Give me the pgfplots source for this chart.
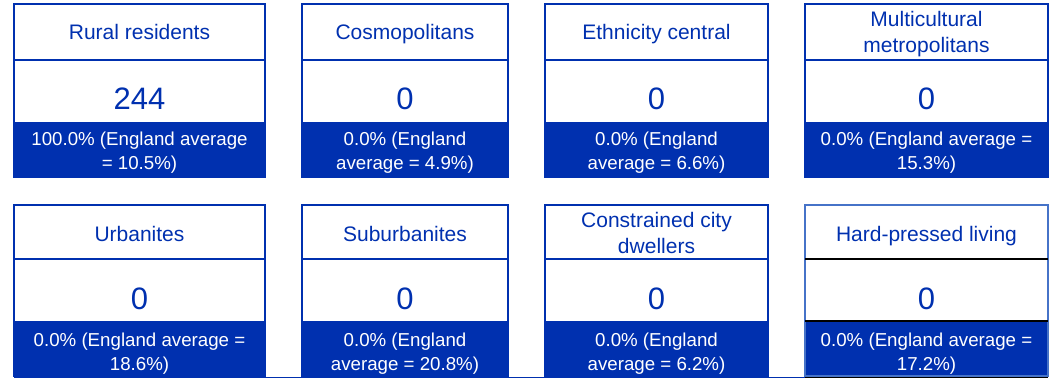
\documentclass[border=0pt]{standalone}
\usepackage{pgfplots}
\pgfplotsset{compat=1.18}
\usepackage{pgfplotstable}
\usepackage{fontspec}
\setmainfont{Liberation Sans}
\definecolor{ons}{RGB}{0,48,175}
\definecolor{hpb}{RGB}{70,115,200}

\pgfplotstableread{
x y count
139.5 110 244
405 110 0
656.5 110 0
926.5 110 0
139.5 309 0
405 309 0
656.5 309 0
926.5 309 0
}\counts

% #1 x1, #2 x2, #3 top, #4 divider, #5 band top, #6 bottom
\newcommand{\panel}[6]{%
  \fill[ons] (axis cs:#1,#5) rectangle (axis cs:#2,#6);
  \draw[ons,line width=2.2pt] (axis cs:#1,#3) rectangle (axis cs:#2,#6);
  \draw[ons,line width=2.2pt] (axis cs:#1,#4) -- (axis cs:#2,#4);
}
\tikzset{
  ttl/.style={anchor=base,text=ons,inner sep=0pt,font=\fontsize{21}{25}\selectfont},
  bnd/.style={anchor=base,text=white,inner sep=0pt,font=\fontsize{18.7}{24}\selectfont},
}

\begin{document}
\begin{tikzpicture}
\begin{axis}[width=1051pt,height=379pt,scale only axis,hide axis,
  xmin=0,xmax=1051,ymin=0,ymax=379,y dir=reverse,clip=false]
\path (axis cs:0,0) rectangle (axis cs:1051,379);
% row 1
\panel{14}{265}{4}{60}{122}{177}
\panel{302}{508}{4}{60}{122}{177}
\panel{545}{768}{4}{60}{122}{177}
\panel{805}{1048}{4}{60}{122}{177}
% row 2
\draw[ons,line width=1.2pt] (axis cs:14,377.8) -- (axis cs:805,377.8);
\draw[black,line width=1.2pt] (axis cs:805,377.8) -- (axis cs:1048,377.8);
\panel{14}{265}{205}{259}{321}{376}
\panel{302}{508}{205}{259}{321}{376}
\panel{545}{768}{205}{259}{321}{376}
% hard-pressed living panel
\fill[ons] (axis cs:805,321) rectangle (axis cs:1048,376);
\draw[hpb,line width=2.2pt] (axis cs:805,205) rectangle (axis cs:1048,376);
\draw[black,line width=2pt] (axis cs:805,259) -- (axis cs:1048,259);
\draw[black,line width=1.6pt] (axis cs:805,321) -- (axis cs:1048,321);

% titles
\node[ttl] at (axis cs:139.5,40) {Rural residents};
\node[ttl] at (axis cs:405,40) {Cosmopolitans};
\node[ttl] at (axis cs:656.5,40) {Ethnicity central};
\node[ttl] at (axis cs:926.5,27) {Multicultural};
\node[ttl] at (axis cs:926.5,53) {metropolitans};
\node[ttl] at (axis cs:139.5,241) {Urbanites};
\node[ttl] at (axis cs:405,241) {Suburbanites};
\node[ttl] at (axis cs:656.5,228) {Constrained city};
\node[ttl] at (axis cs:656.5,254) {dwellers};
\node[ttl] at (axis cs:926.5,241) {Hard-pressed living};

% counts
\addplot[only marks,mark=none,point meta=explicit symbolic,
  nodes near coords={\pgfplotspointmeta},
  nodes near coords style={anchor=base,inner sep=0pt,text=ons,font=\fontsize{31}{31}\selectfont}]
  table[x=x,y=y,meta=count]{\counts};

% bands
\node[bnd] at (axis cs:139.5,146) {100.0\% (England average};
\node[bnd] at (axis cs:139.5,170) {= 10.5\%)};
\node[bnd] at (axis cs:405,146) {0.0\% (England};
\node[bnd] at (axis cs:405,170) {average = 4.9\%)};
\node[bnd] at (axis cs:656.5,146) {0.0\% (England};
\node[bnd] at (axis cs:656.5,170) {average = 6.6\%)};
\node[bnd] at (axis cs:926.5,146) {0.0\% (England average =};
\node[bnd] at (axis cs:926.5,170) {15.3\%)};
\node[bnd] at (axis cs:139.5,346) {0.0\% (England average =};
\node[bnd] at (axis cs:139.5,370) {18.6\%)};
\node[bnd] at (axis cs:405,346) {0.0\% (England};
\node[bnd] at (axis cs:405,370) {average = 20.8\%)};
\node[bnd] at (axis cs:656.5,346) {0.0\% (England};
\node[bnd] at (axis cs:656.5,370) {average = 6.2\%)};
\node[bnd] at (axis cs:926.5,346) {0.0\% (England average =};
\node[bnd] at (axis cs:926.5,370) {17.2\%)};
\end{axis}
\end{tikzpicture}
\end{document}
